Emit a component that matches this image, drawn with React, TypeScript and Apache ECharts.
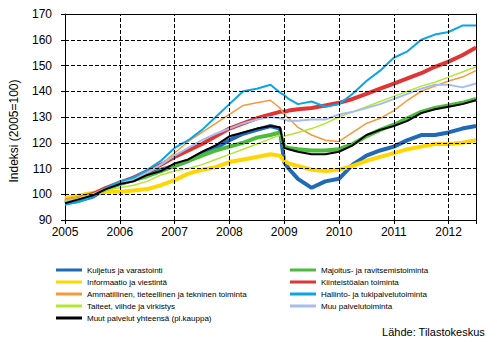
import React, { useEffect, useRef } from "react";
import * as echarts from "echarts";

const xs = [2005, 2005.25, 2005.5, 2005.75, 2006, 2006.25, 2006.5, 2006.75, 2007, 2007.25, 2007.5, 2007.75, 2008, 2008.25, 2008.5, 2008.75, 2008.92, 2009, 2009.08, 2009.25, 2009.5, 2009.75, 2010, 2010.25, 2010.5, 2010.75, 2011, 2011.25, 2011.5, 2011.75, 2012, 2012.25, 2012.5];

const kuljetus = [96.5, 97.5, 99, 102, 104, 105.5, 107.5, 109.5, 111, 113, 116, 118, 121, 123.5, 125, 126.5, 125.5, 112.5, 110, 106, 102.5, 105, 106, 111.5, 115, 117, 118.5, 121, 123, 123, 124, 125.5, 126.5];
const informaatio = [98.5, 99.5, 100.5, 101, 101, 101.5, 102, 103.5, 105.5, 108, 109.5, 110.5, 112.5, 113.5, 114.5, 115.5, 115, 113, 112, 111, 109.5, 109, 109.5, 111, 113, 114.5, 116, 117.5, 118.5, 119.5, 119.5, 120, 121];
const ammatillinen = [98, 99, 100, 102.5, 104.5, 106, 108, 111.5, 116, 120.5, 124, 127.5, 131, 134.5, 135.5, 136.5, 133.5, 131, 129.5, 126, 123, 121, 120.5, 124, 127.5, 129.5, 132.5, 136.5, 140, 142, 144, 145.5, 148];
const taiteet = [97.5, 98.5, 100, 101.5, 102.5, 103.5, 105, 107.5, 109, 110, 111.5, 113.5, 115.5, 117.5, 119.5, 121.5, 123, 122.5, 123, 124, 125.5, 127.5, 130, 132, 134, 136, 138, 140, 142, 143.5, 145.5, 147.5, 149.5];
const muutYhteensa = [96.5, 98, 99.5, 102, 104, 105, 107.5, 109, 112, 113.5, 116.5, 119, 122.5, 124, 125.5, 126.5, 126, 118, 117.5, 116.5, 115.5, 115.5, 116.5, 119, 123, 125, 126.5, 128.5, 131.5, 133, 134, 135, 136.5];
const majoitus = [97, 98.5, 100, 102, 104, 105.5, 107, 109, 111, 113, 115, 117, 118.5, 120, 122, 123, 124, 118.5, 118, 117.5, 117, 117, 117.5, 119.5, 122.5, 125, 127, 129.5, 132, 133.5, 134.5, 135.5, 137];
const kiinteisto = [97.5, 98.5, 100, 102.5, 104.5, 106.5, 109, 111.5, 114.5, 117, 119.5, 122.5, 125.5, 127.5, 129.5, 131, 132, 132, 132.5, 133, 133.5, 134.5, 135.5, 137, 139, 141, 143, 145, 147, 149.5, 151.5, 154, 157];
const hallinto = [96, 97, 99, 102.5, 105, 106.5, 109.5, 113, 118, 121, 125, 130, 135, 140, 141, 142.5, 139.5, 138.5, 137, 135, 136, 134, 135, 139, 144, 148, 153, 155.5, 160, 162, 163, 165.5, 165.5];
const muuPalvelu = [97, 98, 99.5, 102, 104, 106, 108.5, 111.5, 115, 118, 121, 123.5, 125.5, 127.5, 129, 130, 129.5, 129, 128.5, 128.5, 129, 129, 131, 132, 133.5, 135, 137, 139, 141, 142.5, 142.5, 141.5, 143];

const names = {
  kuljetus: "Kuljetus ja varastointi",
  informaatio: "Informaatio ja viestintä",
  ammatillinen: "Ammatillinen, tieteellinen ja tekninen toiminta",
  taiteet: "Taiteet, viihde ja virkistys",
  muut: "Muut palvelut yhteensä (pl.kauppa)",
  majoitus: "Majoitus- ja ravitsemistoiminta",
  kiinteisto: "Kiinteistöalan toiminta",
  hallinto: "Hallinto- ja tukipalvelutoiminta",
  muu: "Muu palvelutoiminta",
};

const yTicks = [90, 100, 110, 120, 130, 140, 150, 160, 170];
const xYears = [2005, 2006, 2007, 2008, 2009, 2010, 2011, 2012];

const FONT = "'Liberation Sans', Arial, sans-serif";

function pairs(vals: number[]) {
  return vals.map((v, i) => [xs[i], v]);
}

export default function App() {
  const ref = useRef<HTMLDivElement>(null);
  useEffect(() => {
    if (!ref.current) return;
    document.body.style.margin = "0";
    const chart = echarts.init(ref.current, undefined, { renderer: "svg" });
    const mk = (name: string, vals: number[], color: string, width: number) => ({
      name,
      type: "line",
      data: pairs(vals),
      symbol: "none",
      showSymbol: false,
      z: 3,
      lineStyle: { color, width },
      itemStyle: { color },
    });
    const legendCommon = {
      orient: "vertical",
      top: 259,
      itemWidth: 26,
      itemHeight: 3,
      itemGap: 0,
      icon: "rect",
      textStyle: { fontSize: 8, fontFamily: FONT, color: "#000", lineHeight: 12 },
    };
    const gridLineData = [
      ...yTicks.slice(1, -1).map((v) => ({ yAxis: v })),
      ...xYears.slice(1).map((v) => ({ xAxis: v })),
    ];
    chart.setOption({
      animation: false,
      grid: { left: 65, right: 21, top: 14, bottom: 122 },
      xAxis: [
        {
          type: "value",
          min: xYears[0],
          max: 2012.5,
          interval: 1,
          axisLine: { show: true, onZero: false, lineStyle: { color: "#000", width: 1 } },
          axisTick: { show: true, length: 4, lineStyle: { color: "#000" } },
          axisLabel: {
            color: "#000",
            fontSize: 12,
            fontFamily: FONT,
            margin: 6,
            formatter: (v: number) => (xYears.includes(v) ? String(v) : ""),
          },
          splitLine: { show: false },
        },
        {
          type: "value",
          position: "top",
          min: xYears[0],
          max: 2012.5,
          interval: 1,
          axisLine: { show: true, onZero: false, lineStyle: { color: "#000", width: 1 } },
          axisTick: { show: false },
          axisLabel: { show: false },
          splitLine: { show: false },
        },
      ],
      yAxis: [
        {
          type: "value",
          min: yTicks[0],
          max: yTicks[yTicks.length - 1],
          interval: 10,
          axisLine: { show: true, onZero: false, lineStyle: { color: "#000", width: 1 } },
          axisTick: { show: true, length: 4, lineStyle: { color: "#000" } },
          axisLabel: { color: "#000", fontSize: 12, fontFamily: FONT, margin: 13 },
          splitLine: { show: false },
        },
        {
          type: "value",
          position: "right",
          min: yTicks[0],
          max: yTicks[yTicks.length - 1],
          interval: 10,
          axisLine: { show: true, onZero: false, lineStyle: { color: "#000", width: 1 } },
          axisTick: { show: false },
          axisLabel: { show: false },
          splitLine: { show: false },
        },
      ],
      legend: [
        {
          ...legendCommon,
          left: 51,
          data: [names.kuljetus, names.informaatio, names.ammatillinen, names.taiteet, names.muut],
        },
        {
          ...legendCommon,
          left: 285,
          data: [names.majoitus, names.kiinteisto, names.hallinto, names.muu],
        },
      ],
      graphic: [
        {
          type: "text",
          x: 14,
          y: 131,
          rotation: Math.PI / 2,
          style: {
            text: "Indeksi (2005=100)",
            fontSize: 12,
            fontFamily: FONT,
            fill: "#000",
            align: "center",
            verticalAlign: "middle",
          },
        },
        {
          type: "text",
          right: 12,
          top: 326,
          style: {
            text: "Lähde: Tilastokeskus",
            fontSize: 11,
            fontFamily: FONT,
            fill: "#000",
          },
        },
      ],
      series: [
        {
          name: "grid",
          type: "line",
          data: [],
          z: 1,
          silent: true,
          markLine: {
            silent: true,
            symbol: "none",
            label: { show: false },
            animation: false,
            lineStyle: { color: "#000", type: "dashed", width: 1 },
            emphasis: { disabled: true },
            data: gridLineData,
          },
        },
        mk(names.kuljetus, kuljetus, "#1f6ab8", 4),
        mk(names.informaatio, informaatio, "#ffd700", 4),
        mk(names.majoitus, majoitus, "#4cbb3c", 4),
        mk(names.kiinteisto, kiinteisto, "#e03535", 4),
        mk(names.ammatillinen, ammatillinen, "#f7983a", 1.5),
        mk(names.taiteet, taiteet, "#b4e633", 1.5),
        mk(names.muu, muuPalvelu, "#a7bdec", 2),
        mk(names.hallinto, hallinto, "#0aa5e8", 2),
        mk(names.muut, muutYhteensa, "#000000", 2),
      ],
    });
    return () => chart.dispose();
  }, []);
  return <div ref={ref} style={{ width: 497, height: 342 }} />;
}
